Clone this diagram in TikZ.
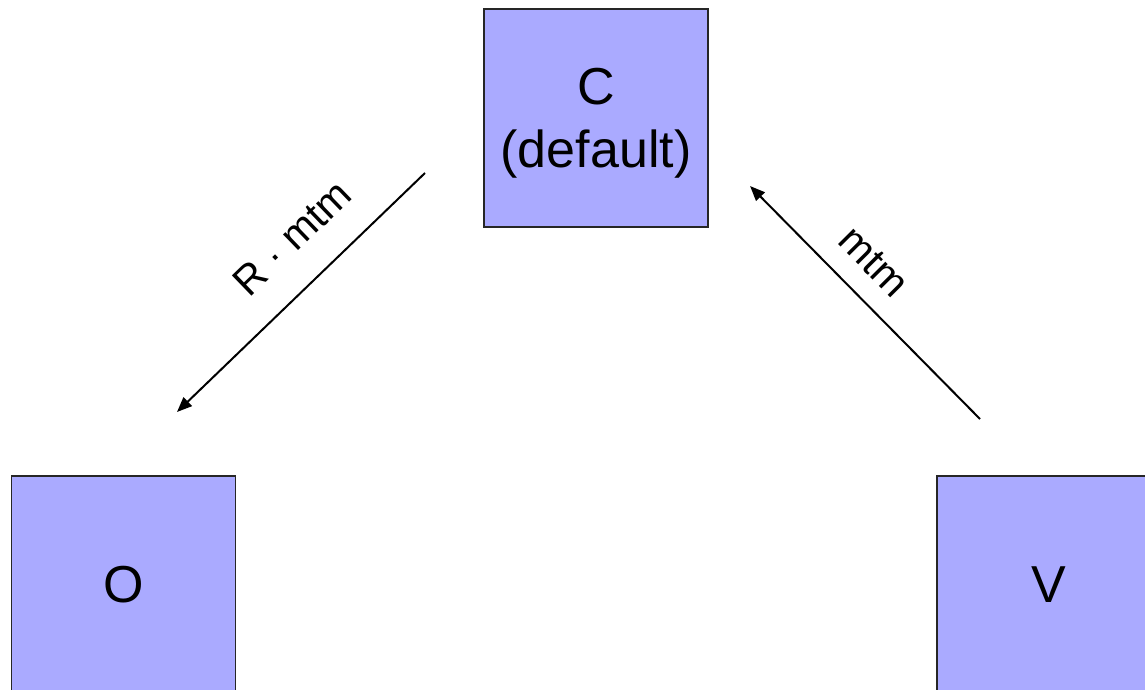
\documentclass[tikz,border=0pt]{standalone}
\usepackage{fontspec}
\setmainfont{Liberation Sans}
\usetikzlibrary{arrows.meta}
\definecolor{boxfill}{RGB}{170,170,255}
\begin{document}
\begin{tikzpicture}[x=1pt,y=-1pt,
  statebox/.style={draw=black!85, line width=1.3pt, fill=boxfill,
    minimum width=224pt, minimum height=218pt, inner sep=0pt,
    font=\fontsize{52}{63}\selectfont, align=center},
  flow/.style={-{Triangle[length=15pt,width=12pt]}, line width=2pt},
  edgelabel/.style={font=\fontsize{41}{49}\selectfont, inner sep=0pt}]
\useasboundingbox (0,0) rectangle (1145,690);
% states
\node[statebox] (C) at (596,118) {\rule{0pt}{46pt}C\\(default)};
\node[statebox] (O) at (123.5,585) {O};
\node[statebox] (V) at (1049,585) {V};
% transition end points
\coordinate (rStart) at (425,173);
\coordinate (rEnd) at (177,412);
\coordinate (mStart) at (980,419);
\coordinate (mEnd) at (750,186);
% transitions
\draw[flow] (rStart) -- (rEnd);
\draw[flow] (mStart) -- (mEnd);
\node[edgelabel, rotate=44] (rLabel) at (292,238) {R · mtm};
\node[edgelabel, rotate=-45.2] (mLabel) at (874,262) {mtm};
\end{tikzpicture}
\end{document}
